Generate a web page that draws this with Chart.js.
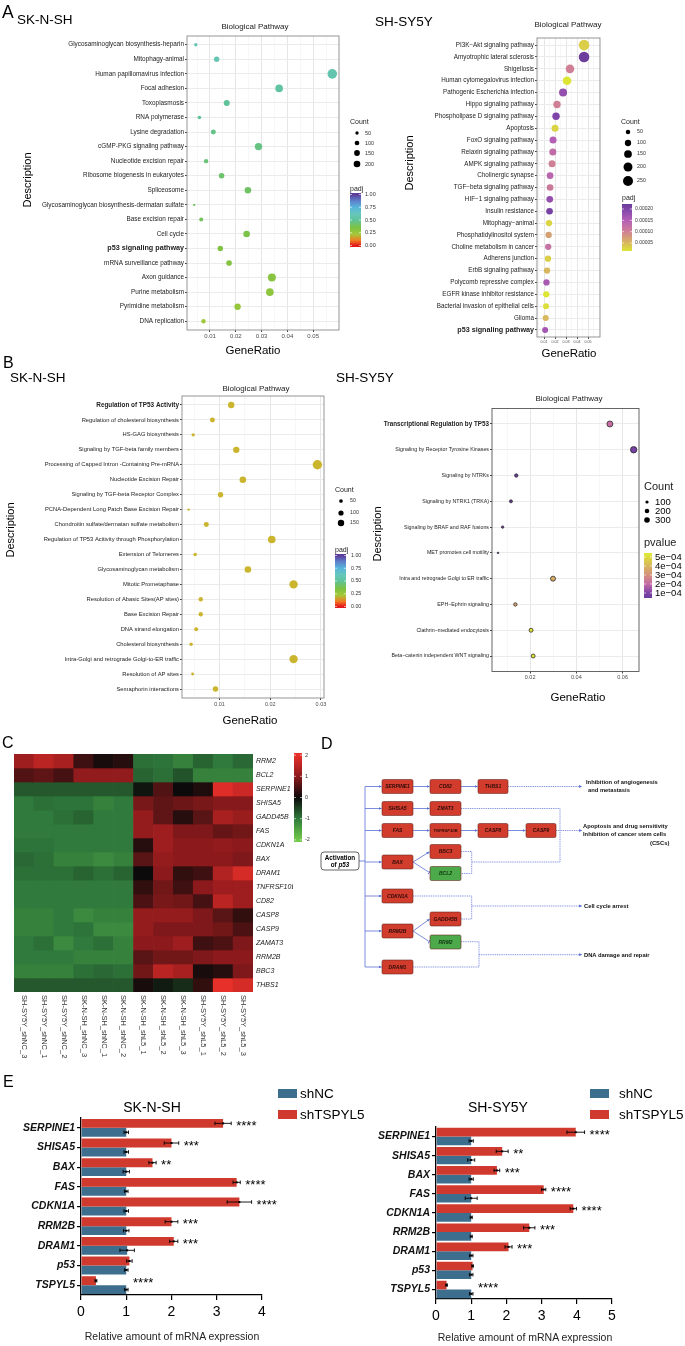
<!DOCTYPE html>
<html>
<head>
<meta charset="utf-8">
<title>TSPYL5 knockdown: enrichment, heatmap and qPCR</title>
<script src="https://cdn.jsdelivr.net/npm/chart.js@4.4.1/dist/chart.umd.min.js"></script>
<style>
  body { margin: 0; background: #fff; }
  #page { position: relative; width: 685px; height: 1346px; overflow: hidden; background: #fff; }
  #page canvas { position: absolute; left: 0; }
  #overlay { position: absolute; left: 0; top: 0; font-family: "Liberation Sans", Arial, sans-serif; }
</style>
</head>
<body>
<div id="page">
  <canvas id="keggSknsh" width="685" height="360" style="top:0px"></canvas>
  <canvas id="keggSysy" width="685" height="360" style="top:0px"></canvas>
  <canvas id="reactSknsh" width="685" height="360" style="top:360px"></canvas>
  <canvas id="reactSysy" width="685" height="360" style="top:360px"></canvas>
  <canvas id="heat" width="685" height="330" style="top:740px"></canvas>
  <canvas id="qpcrSknsh" width="685" height="246" style="top:1100px"></canvas>
  <canvas id="qpcrSysy" width="685" height="246" style="top:1100px"></canvas>

  <svg id="overlay" width="685" height="1346">
    <defs>
      <marker id="arrow" viewBox="0 0 6 6" refX="5.5" refY="3" markerWidth="3.2" markerHeight="3.2" markerUnits="userSpaceOnUse" orient="auto"><path d="M0,0.4 L6,3 L0,5.6 z" fill="#5a6fd6"/></marker>
      <marker id="block" viewBox="0 0 2 8" refX="1" refY="4" markerWidth="1" markerHeight="5" markerUnits="userSpaceOnUse" orient="auto"><rect width="2" height="8" fill="#5a6fd6"/></marker>
    </defs>

    <!-- panel A / B titles -->
    <text x="2" y="18" font-size="17.5">A</text>
    <text x="17" y="24" font-size="13.5">SK-N-SH</text>
    <text x="375" y="26" font-size="13.5">SH-SY5Y</text>
    <text x="255" y="29" font-size="8" text-anchor="middle" fill="#1a1a1a">Biological Pathway</text>
    <text x="568" y="27" font-size="8" text-anchor="middle" fill="#1a1a1a">Biological Pathway</text>
    <text transform="translate(31,180) rotate(-90)" font-size="11" text-anchor="middle">Description</text>
    <text transform="translate(413,163) rotate(-90)" font-size="11" text-anchor="middle">Description</text>
    <text x="253" y="354" font-size="11.5" text-anchor="middle">GeneRatio</text>
    <text x="569" y="357" font-size="11.5" text-anchor="middle">GeneRatio</text>

    <text x="3" y="368" font-size="16">B</text>
    <text x="10" y="382" font-size="13.5">SK-N-SH</text>
    <text x="336" y="382" font-size="13.5">SH-SY5Y</text>
    <text x="256" y="391" font-size="8" text-anchor="middle" fill="#1a1a1a">Biological Pathway</text>
    <text x="569" y="401" font-size="8" text-anchor="middle" fill="#1a1a1a">Biological Pathway</text>
    <text transform="translate(14,530) rotate(-90)" font-size="11" text-anchor="middle">Description</text>
    <text transform="translate(381,534) rotate(-90)" font-size="11" text-anchor="middle">Description</text>
    <text x="250" y="724" font-size="11.5" text-anchor="middle">GeneRatio</text>
    <text x="578" y="701" font-size="11.5" text-anchor="middle">GeneRatio</text>

    <text x="2" y="748" font-size="16">C</text>
    <text x="321" y="749" font-size="16">D</text>
    <text x="3" y="1087" font-size="16">E</text>

    <!-- panel D: p53 target scheme -->
    <g stroke="#5a6fd6" stroke-width="0.8" fill="none">
      <path d="M359,861 H365"/>
      <path d="M365,786.5 V967"/>
      <path d="M365,786.5 H381.5" marker-end="url(#arrow)"/>
      <path d="M365,808.5 H381.5" marker-end="url(#arrow)"/>
      <path d="M365,830.5 H381.5" marker-end="url(#arrow)"/>
      <path d="M365,862 H381.5" marker-end="url(#arrow)"/>
      <path d="M365,896 H381.5" marker-end="url(#arrow)"/>
      <path d="M365,931 H381.5" marker-end="url(#arrow)"/>
      <path d="M365,967 H381.5" marker-end="url(#arrow)"/>
      <path d="M413,786.5 H429.5" marker-end="url(#arrow)"/>
      <path d="M461,786.5 H477.5" marker-end="url(#arrow)"/>
      <path d="M413,808.5 H429.5" marker-end="url(#arrow)"/>
      <path d="M413,830.5 H429.5" marker-end="url(#arrow)"/>
      <path d="M461,830.5 H477.5" marker-end="url(#arrow)"/>
      <path d="M508,830.5 H525.5" marker-end="url(#arrow)"/>
      <path d="M413,862 L429.5,851.8" marker-end="url(#arrow)"/>
      <path d="M413,862 L429.3,872.4" marker-end="url(#block)"/>
      <path d="M413,931 L429.5,919.2" marker-end="url(#arrow)"/>
      <path d="M413,931 L429.3,941.6" marker-end="url(#block)"/>
    </g>
    <g stroke="#5a6fd6" stroke-width="0.8" fill="none" stroke-dasharray="1 0.8">
      <path d="M508,786.5 H582" marker-end="url(#arrow)"/>
      <path d="M461,808.5 H560 V862 H471.7"/>
      <path d="M461,851.5 H471.7 V873.5 H461"/>
      <path d="M556,830.5 H582" marker-end="url(#arrow)"/>
      <path d="M413,896 H471.7 V919 H461"/>
      <path d="M471.7,906 H582" marker-end="url(#arrow)"/>
      <path d="M461,941.7 H479 V967 H413"/>
      <path d="M479,954.7 H582" marker-end="url(#arrow)"/>
    </g>
    <g stroke="#6b2a22" stroke-width="0.6" fill="#d13c2c">
      <rect x="382" y="779.5" width="31" height="14" rx="1.5"/>
      <rect x="430" y="779.5" width="31" height="14" rx="1.5"/>
      <rect x="478" y="779.5" width="30" height="14" rx="1.5"/>
      <rect x="382" y="801.5" width="31" height="14" rx="1.5"/>
      <rect x="430" y="801.5" width="31" height="14" rx="1.5"/>
      <rect x="382" y="823.5" width="31" height="14" rx="1.5"/>
      <rect x="430" y="823.5" width="31" height="14" rx="1.5"/>
      <rect x="478" y="823.5" width="30" height="14" rx="1.5"/>
      <rect x="526" y="823.5" width="30" height="14" rx="1.5"/>
      <rect x="430" y="844.5" width="31" height="14" rx="1.5"/>
      <rect x="382" y="855" width="31" height="14" rx="1.5"/>
      <rect x="430" y="866.5" width="31" height="14" rx="1.5" fill="#4caa4a"/>
      <rect x="382" y="889" width="31" height="14" rx="1.5"/>
      <rect x="430" y="912" width="31" height="14" rx="1.5"/>
      <rect x="382" y="924" width="31" height="14" rx="1.5"/>
      <rect x="430" y="935" width="31" height="14" rx="1.5" fill="#4caa4a"/>
      <rect x="382" y="960" width="31" height="14" rx="1.5"/>
    </g>
    <g font-size="5" font-weight="bold" font-style="italic" fill="#2e0b08" text-anchor="middle">
      <text x="397.5" y="788.3">SERPINE1</text>
      <text x="445.5" y="788.3">CD82</text>
      <text x="493" y="788.3">THBS1</text>
      <text x="397.5" y="810.3">SHISA5</text>
      <text x="445.5" y="810.3">ZMAT3</text>
      <text x="397.5" y="832.3">FAS</text>
      <text x="445.5" y="832.1" font-size="4.2">TNFRSF10B</text>
      <text x="493" y="832.3">CASP8</text>
      <text x="541" y="832.3">CASP9</text>
      <text x="445.5" y="853.3">BBC3</text>
      <text x="397.5" y="863.8">BAX</text>
      <text x="445.5" y="875.3" fill="#123312">BCL2</text>
      <text x="397.5" y="897.8">CDKN1A</text>
      <text x="445.5" y="920.8">GADD45B</text>
      <text x="397.5" y="932.8">RRM2B</text>
      <text x="445.5" y="943.8" fill="#123312">RRM2</text>
      <text x="397.5" y="968.8">DRAM1</text>
    </g>
    <rect x="321" y="852" width="38" height="18" rx="3" fill="#fff" stroke="#222" stroke-width="0.7"/>
    <text x="340" y="859.6" font-size="6.3" font-weight="bold" text-anchor="middle">Activation</text>
    <text x="340" y="867.2" font-size="6.3" font-weight="bold" text-anchor="middle">of <tspan font-style="italic">p53</tspan></text>
    <g font-size="5.8" font-weight="bold" fill="#111">
      <text x="586" y="784">Inhibition of angiogenesis</text>
      <text x="588" y="792">and metastasis</text>
      <text x="583" y="828">Apoptosis and drug sensitivity</text>
      <text x="583" y="836">Inhibition of cancer stem cells</text>
      <text x="650" y="845">(CSCs)</text>
      <text x="584" y="908">Cell cycle arrest</text>
      <text x="584" y="957">DNA damage and repair</text>
    </g>

    <!-- panel E titles and legends -->
    <text x="152" y="1112" font-size="14" text-anchor="middle">SK-N-SH</text>
    <text x="498" y="1112" font-size="14" text-anchor="middle">SH-SY5Y</text>
    <rect x="278" y="1089" width="19" height="9" fill="#3e6e8e"/>
    <text x="300" y="1098" font-size="13.5">shNC</text>
    <rect x="278" y="1110" width="19" height="9" fill="#d03a2e"/>
    <text x="300" y="1119" font-size="13.5">shTSPYL5</text>
    <rect x="590" y="1089" width="19" height="9" fill="#3e6e8e"/>
    <text x="619" y="1098" font-size="13.5">shNC</text>
    <rect x="590" y="1110" width="19" height="9" fill="#d03a2e"/>
    <text x="619" y="1119" font-size="13.5">shTSPYL5</text>
    <text x="172" y="1340" font-size="10.5" text-anchor="middle" fill="#222">Relative amount of mRNA expression</text>
    <text x="525" y="1341" font-size="10.5" text-anchor="middle" fill="#222">Relative amount of mRNA expression</text>
  </svg>
</div>

<script>
// ---------------- A: KEGG, SK-N-SH ----------------
var keggSknshTerms = ['Glycosaminoglycan biosynthesis-heparin', 'Mitophagy-animal', 'Human papillomavirus infection', 'Focal adhesion',
  'Toxoplasmosis', 'RNA polymerase', 'Lysine degradation', 'cGMP-PKG signaling pathway', 'Nucleotide excision repair',
  'Ribosome biogenesis in eukaryotes', 'Spliceosome', 'Glycosaminoglycan biosynthesis-dermatan sulfate', 'Base excision repair',
  'Cell cycle', 'p53 signaling pathway', 'mRNA surveillance pathway', 'Axon guidance', 'Purine metabolism',
  'Pyrimidine metabolism', 'DNA replication'];
var keggSknshRatio = [0.0045, 0.0126, 0.0574, 0.0368, 0.0165, 0.0059, 0.0113, 0.0288, 0.0085, 0.0145,
  0.0247, 0.0039, 0.0066, 0.0242, 0.0140, 0.0174, 0.0340, 0.0332, 0.0207, 0.0075];
var keggSknshCount = [52, 132, 417, 262, 163, 59, 113, 248, 88, 142, 197, 26, 72, 197, 132, 142, 290, 262, 185, 88];
var keggSknshPadj = [0.60, 0.58, 0.57, 0.52, 0.50, 0.50, 0.47, 0.46, 0.44, 0.42, 0.41, 0.40, 0.39, 0.36, 0.34, 0.33, 0.31, 0.29, 0.27, 0.24];

// ---------------- A: KEGG, SH-SY5Y ----------------
var keggSysyTerms = ['PI3K−Akt signaling pathway', 'Amyotrophic lateral sclerosis', 'Shigellosis', 'Human cytomegalovirus infection',
  'Pathogenic Escherichia infection', 'Hippo signaling pathway', 'Phospholipase D signaling pathway', 'Apoptosis',
  'FoxO signaling pathway', 'Relaxin signaling pathway', 'AMPK signaling pathway', 'Cholinergic synapse',
  'TGF−beta signaling pathway', 'HIF−1 signaling pathway', 'Insulin resistance', 'Mitophagy−animal',
  'Phosphatidylinositol system', 'Choline metabolism in cancer', 'Adherens junction', 'ErbB signaling pathway',
  'Polycomb repressive complex', 'EGFR kinase inhibitor resistance', 'Bacterial invasion of epithelial cells', 'Glioma',
  'p53 signaling pathway'];
var keggSysyRatio = [0.0464, 0.0464, 0.0336, 0.0309, 0.0273, 0.0218, 0.0209, 0.0200, 0.0182, 0.0180, 0.0173, 0.0155, 0.0155,
  0.0152, 0.0150, 0.0145, 0.0142, 0.0138, 0.0136, 0.0127, 0.0122, 0.0120, 0.0118, 0.0115, 0.0110];
var keggSysyCount = [281, 281, 185, 185, 160, 137, 137, 123, 123, 123, 123, 111, 111, 111, 111, 100, 100, 100, 100, 100, 100, 100, 90, 90, 90];
var keggSysyPadj = [0.00003, 0.000222, 0.0001, 0.00001, 0.00018, 0.0001, 0.0002, 0.000025, 0.00015, 0.00013, 0.0001, 0.00014,
  0.00011, 0.00018, 0.00021, 0.000025, 0.00007, 0.00012, 0.00003, 0.00005, 0.00016, 0.00001, 0.000015, 0.00005, 0.000165];

// ---------------- B: Reactome, SK-N-SH ----------------
var reactSknshTerms = ['Regulation of TP53 Activity', 'Regulation of cholesterol biosynthesis', 'HS-GAG biosynthesis',
  'Signaling by TGF-beta family members', 'Processing of Capped Intron -Containing Pre-mRNA', 'Nucleotide Excision Repair',
  'Signaling by TGF-beta Receptor Complex', 'PCNA-Dependent Long Patch Base Excision Repair',
  'Chondroitin sulfate/dermatan sulfate metabolism', 'Regulation of TP53 Acitivity through Phosphorylation',
  'Extension of Telomeres', 'Glycosaminoglycan metabolism', 'Mitotic Prometaphase', 'Resolution of Abasic Sites(AP sites)',
  'Base Excision Repair', 'DNA strand elongation', 'Cholesterol biosynthesis', 'Intra-Golgi and retrograde Golgi-to-ER traffic',
  'Resolution of AP sites', 'Semaphorin interactions'];
var reactSknshRatio = [0.0123, 0.0086, 0.0048, 0.0133, 0.0293, 0.0146, 0.0102, 0.0039, 0.0074, 0.0203,
  0.0052, 0.0156, 0.0246, 0.0063, 0.0063, 0.0054, 0.0044, 0.0246, 0.0047, 0.0092];
var reactSknshCount = [150, 92, 43, 150, 327, 161, 108, 21, 92, 214, 48, 161, 261, 72, 72, 59, 43, 261, 33, 108];

// ---------------- B: Reactome, SH-SY5Y ----------------
var reactSysyTerms = ['Transcriptional Regulation by TP53', 'Signaling by Receptor Tyrosine Kinases', 'Signaling by NTRKs',
  'Signaling by NTRK1 (TRKA)', 'Signaling by BRAF and RAF fusions', 'MET promotes cell motility',
  'Intra and retrograde Golgi to ER traffic', 'EPH−Ephrin signaling', 'Clathrin−mediated endocytosis',
  'Beta−catenin independent WNT signaling'];
var reactSysyRatio = [0.0545, 0.0648, 0.0140, 0.0117, 0.0081, 0.0061, 0.0299, 0.0136, 0.0204, 0.0213];
var reactSysyCount = [344, 392, 110, 86, 55, 24, 240, 110, 153, 153];
var reactSysyPvalue = [2.1e-4, 0.8e-4, 0.5e-4, 0.55e-4, 0.6e-4, 0.7e-4, 3.7e-4, 3.6e-4, 5.2e-4, 5.1e-4];

// ---------------- C: heatmap (row z-scores) ----------------
var heatSamples = ['SH-SY5Y_shNC_3', 'SH-SY5Y_shNC_1', 'SH-SY5Y_shNC_2', 'SK-N-SH_shNC_3', 'SK-N-SH_shNC_1', 'SK-N-SH_shNC_2',
  'SK-N-SH_shL5_1', 'SK-N-SH_shL5_2', 'SK-N-SH_shL5_3', 'SH-SY5Y_shL5_1', 'SH-SY5Y_shL5_2', 'SH-SY5Y_shL5_3'];
var heatGenes = ['RRM2', 'BCL2', 'SERPINE1', 'SHISA5', 'GADD45B', 'FAS', 'CDKN1A', 'BAX', 'DRAM1', 'TNFRSF10B', 'CD82',
  'CASP8', 'CASP9', 'ZAMAT3', 'RRM2B', 'BBC3', 'THBS1'];
var heatZ = [
  [1.2, 1.5, 1.3, 0.4, 0.1, 0.2, -0.9, -0.95, -1.1, -0.8, -1.0, -0.85],
  [0.55, 0.65, 0.45, 1.05, 1.05, 1.05, -0.8, -0.9, -0.65, -1.1, -1.1, -1.1],
  [-0.7, -0.7, -0.7, -0.7, -0.7, -0.7, -0.1, 0.55, 0.0, 0.15, 1.9, 1.7],
  [-1.0, -0.9, -0.95, -0.95, -1.1, -1.0, 0.85, 0.65, 0.75, 0.85, 0.95, 0.95],
  [-1.0, -1.0, -0.9, -0.8, -1.0, -1.0, 1.1, 0.65, 0.2, 0.6, 1.3, 1.15],
  [-1.0, -1.0, -1.0, -1.0, -1.0, -1.0, 1.1, 1.2, 0.9, 0.9, 0.7, 0.8],
  [-0.95, -0.95, -1.0, -1.0, -1.0, -1.0, 0.2, 1.2, 1.0, 1.0, 1.05, 1.0],
  [-0.85, -0.9, -1.1, -1.1, -1.2, -1.1, 0.6, 1.1, 1.0, 1.0, 1.0, 0.9],
  [-0.9, -0.9, -0.9, -0.8, -0.9, -0.8, 0.0, 1.0, 0.3, 0.4, 1.4, 1.8],
  [-1.0, -1.0, -1.0, -1.0, -1.0, -1.0, 0.3, 0.8, 0.4, 1.0, 1.2, 1.2],
  [-1.0, -1.0, -1.0, -1.0, -1.0, -1.0, 0.5, 0.85, 0.8, 0.45, 1.5, 1.2],
  [-1.1, -1.1, -1.0, -1.2, -1.1, -1.1, 1.1, 1.1, 1.1, 0.9, 0.6, 0.3],
  [-1.1, -1.1, -1.0, -0.95, -1.2, -1.2, 1.1, 0.9, 0.9, 0.9, 0.8, 0.5],
  [-1.0, -0.9, -1.2, -1.0, -0.9, -1.1, 1.0, 1.0, 1.2, 0.4, 0.5, 0.9],
  [-1.0, -1.0, -1.0, -1.1, -1.1, -1.1, 0.6, 0.8, 0.8, 0.9, 1.0, 1.0],
  [-1.1, -1.1, -1.1, -0.9, -0.85, -0.9, 0.8, 1.5, 1.3, 0.1, 0.2, 0.9],
  [-0.7, -0.7, -0.7, -0.7, -0.7, -0.7, 0.1, -0.15, -0.3, 0.3, 2.0, 1.8]
];

// ---------------- E: qPCR ----------------
var qpcrGenes = ['SERPINE1', 'SHISA5', 'BAX', 'FAS', 'CDKN1A', 'RRM2B', 'DRAM1', 'p53', 'TSPYL5'];
var sknshNC = [1.0, 1.0, 1.0, 1.0, 1.0, 1.0, 1.02, 1.0, 1.0];
var sknshNCErr = [0.05, 0.05, 0.07, 0.04, 0.05, 0.06, 0.16, 0.04, 0.04];
var sknshKD = [3.14, 2.0, 1.58, 3.44, 3.5, 2.0, 2.05, 1.07, 0.33];
var sknshKDErr = [0.18, 0.16, 0.08, 0.08, 0.27, 0.14, 0.09, 0.06, 0.02];
var sknshStars = ['****', '***', '**', '****', '****', '***', '***', '', '****'];
var sysyNC = [1.0, 1.0, 1.0, 1.0, 1.0, 1.0, 1.0, 1.0, 1.0];
var sysyNCErr = [0.06, 0.1, 0.06, 0.17, 0.03, 0.03, 0.05, 0.05, 0.05];
var sysyKD = [3.97, 1.88, 1.73, 3.06, 3.9, 2.65, 2.06, 1.04, 0.3];
var sysyKDErr = [0.25, 0.17, 0.08, 0.06, 0.09, 0.16, 0.1, 0.02, 0.02];
var sysyStars = ['****', '**', '***', '****', '****', '***', '***', '', '****'];

// colour scales (value, colour)
var rainbowStops = [[0, '#e41a1c'], [0.1, '#f17c22'], [0.22, '#a4c93a'], [0.35, '#7cc242'], [0.5, '#5fc39a'],
  [0.62, '#66c7bc'], [0.75, '#58b5dc'], [0.88, '#5d7fca'], [1, '#5e3c99']];
var keggSysyStops = [[0.00001, '#dde535'], [0.00005, '#d8b85c'], [0.0001, '#cf8094'], [0.00015, '#b45fb6'],
  [0.0002, '#7f45a9'], [0.000225, '#6a3d9a']];
var pvalStops = [[0.44e-4, '#6a3d9a'], [1e-4, '#7f44a6'], [2e-4, '#c46aa8'], [3e-4, '#d4927a'], [4e-4, '#d8b45e'],
  [5e-4, '#dcdc3c'], [5.44e-4, '#e0ea34']];
var heatStops = [[-2, '#72c94a'], [-1, '#2f7a3c'], [0, '#0c0a0a'], [1, '#8c1a1c'], [2, '#e8302a']];

var FONT = '"Liberation Sans", Arial, sans-serif';
Chart.defaults.font.family = FONT;
Chart.defaults.color = '#333';

function hexRgb(h) {
  h = h.replace('#', '');
  return [parseInt(h.substr(0, 2), 16), parseInt(h.substr(2, 2), 16), parseInt(h.substr(4, 2), 16)];
}
function rampColor(stops, v) {
  if (v <= stops[0][0]) return stops[0][1];
  for (var i = 1; i < stops.length; i++) {
    if (v <= stops[i][0]) {
      var a = stops[i - 1], b = stops[i];
      var t = (v - a[0]) / (b[0] - a[0]);
      var ca = hexRgb(a[1]), cb = hexRgb(b[1]);
      return 'rgb(' + [0, 1, 2].map(function (k) { return Math.round(ca[k] + (cb[k] - ca[k]) * t); }).join(',') + ')';
    }
  }
  return stops[stops.length - 1][1];
}

// panel border like theme_bw
var framePlugin = {
  id: 'frame',
  afterDatasetsDraw: function (chart, args, opts) {
    var a = chart.chartArea, c = chart.ctx;
    c.save();
    c.strokeStyle = opts.color || '#888';
    c.lineWidth = 0.9;
    c.strokeRect(a.left, a.top, a.right - a.left, a.bottom - a.top);
    c.restore();
  }
};

function sizeLegend(c, o) {
  c.fillStyle = '#222';
  c.font = o.titleSize + 'px ' + FONT;
  c.textAlign = 'left';
  c.textBaseline = 'alphabetic';
  c.fillText(o.title, o.x, o.titleY);
  o.values.forEach(function (v, i) {
    c.beginPath();
    c.arc(o.dotX, o.ys[i], o.radius(v), 0, Math.PI * 2);
    c.fillStyle = '#000';
    c.fill();
    c.fillStyle = o.labelColor || '#333';
    c.font = o.labelSize + 'px ' + FONT;
    c.textBaseline = 'middle';
    c.fillText(String(v), o.labelX, o.ys[i]);
  });
}

function colorBar(c, o) {
  c.fillStyle = '#222';
  c.font = o.titleSize + 'px ' + FONT;
  c.textAlign = 'left';
  c.textBaseline = 'alphabetic';
  if (o.title) c.fillText(o.title, o.x, o.titleY);
  var g = c.createLinearGradient(0, o.y, 0, o.y + o.h);
  o.stops.forEach(function (s) {
    var p = (o.vTop - s[0]) / (o.vTop - o.vBottom);
    g.addColorStop(Math.max(0, Math.min(1, p)), s[1]);
  });
  c.fillStyle = g;
  c.fillRect(o.x, o.y, o.w, o.h);
  o.ticks.forEach(function (v, i) {
    var y = o.y + (o.vTop - v) / (o.vTop - o.vBottom) * o.h;
    c.strokeStyle = '#fff';
    c.lineWidth = 0.6;
    c.beginPath();
    c.moveTo(o.x, y); c.lineTo(o.x + 2, y);
    c.moveTo(o.x + o.w - 2, y); c.lineTo(o.x + o.w, y);
    c.stroke();
    c.fillStyle = o.labelColor || '#333';
    c.font = o.labelSize + 'px ' + FONT;
    c.textBaseline = 'middle';
    c.fillText(o.labels[i], o.labelX, y);
  });
}

// GO/KEGG style dot plot
function dotPlot(id, o) {
  var n = o.terms.length;
  var pts = o.terms.map(function (t, i) { return { x: o.ratio[i], y: i, r: o.radius(o.count[i]) }; });
  var isMajor = function (v) { return o.majors.some(function (m) { return Math.abs(m - v) < 1e-9; }); };
  return new Chart(document.getElementById(id), {
    type: 'bubble',
    data: {
      datasets: [{
        data: pts,
        backgroundColor: o.colors,
        borderColor: o.outline ? '#1a1a1a' : o.colors,
        borderWidth: o.outline ? 0.7 : 0,
        clip: false
      }]
    },
    options: {
      responsive: false, animation: false, events: [],
      layout: { padding: { left: 0, top: o.area.top - o.top, right: 685 - o.area.right, bottom: 0 } },
      plugins: { legend: { display: false }, tooltip: { enabled: false }, frame: { color: o.frameColor } },
      scales: {
        x: {
          type: 'linear', min: o.xMin, max: o.xMax,
          afterBuildTicks: function (s) { s.ticks = o.grid.map(function (v) { return { value: v }; }); },
          afterFit: function (s) { s.height = o.top + o.height - o.area.bottom; },
          ticks: {
            autoSkip: false, maxRotation: 0, padding: 1, color: '#4d4d4d', font: { size: o.xFont },
            callback: function (v) { return isMajor(v) ? v.toFixed(2) : ''; }
          },
          grid: {
            color: function (c) { return c.tick && isMajor(c.tick.value) ? '#e6e6e6' : '#f1f1f1'; },
            lineWidth: function (c) { return c.tick && isMajor(c.tick.value) ? 1 : 0.6; },
            tickLength: 2,
            tickColor: function (c) { return c.tick && isMajor(c.tick.value) ? '#444' : 'rgba(0,0,0,0)'; }
          },
          border: { display: false }
        },
        y: {
          type: 'linear', reverse: true, min: -0.6, max: n - 0.4,
          afterBuildTicks: function (s) { s.ticks = o.terms.map(function (t, i) { return { value: i }; }); },
          afterFit: function (s) { s.width = o.area.left; },
          ticks: {
            autoSkip: false, padding: 1, color: '#222',
            callback: function (v) { return o.terms[v]; },
            font: function (c) {
              return c.index === o.bold ? { size: o.boldSize, weight: 'bold' } : { size: o.yFont, weight: 'normal' };
            }
          },
          grid: { color: '#ebebeb', lineWidth: 1, tickLength: 2, tickColor: '#444' },
          border: { display: false }
        }
      }
    },
    plugins: [framePlugin, {
      id: id + 'Legend',
      afterDraw: function (chart) {
        var c = chart.ctx;
        c.save();
        c.translate(0, -o.top);
        o.legend(c);
        c.restore();
      }
    }]
  });
}

var rKeggSknsh = function (v) { return 0.235 * Math.sqrt(v); };
var rKeggSysy = function (v) { return 0.316 * Math.sqrt(v); };
var rReactSknsh = function (v) { return 0.26 * Math.sqrt(v); };
var rReactSysy = function (v) { return 0.1617 * Math.sqrt(v); };

dotPlot('keggSknsh', {
  top: 0, height: 360, area: { left: 187, right: 339, top: 36, bottom: 330 },
  terms: keggSknshTerms, ratio: keggSknshRatio, count: keggSknshCount, radius: rKeggSknsh,
  colors: keggSknshPadj.map(function (p) { return rampColor(rainbowStops, p); }),
  xMin: 0.0011, xMax: 0.06, grid: [0.005, 0.01, 0.015, 0.02, 0.025, 0.03, 0.035, 0.04, 0.045, 0.05, 0.055],
  majors: [0.01, 0.02, 0.03, 0.04, 0.05], xFont: 6, yFont: 6.4, bold: 14, boldSize: 7.2, frameColor: '#8a8a8a',
  legend: function (c) {
    sizeLegend(c, { title: 'Count', x: 350, titleY: 124, titleSize: 7, dotX: 357, labelX: 365, labelSize: 5.5,
      ys: [133, 143, 153, 164], values: [50, 100, 150, 200], radius: rKeggSknsh });
    colorBar(c, { title: 'padj', x: 350, titleY: 191, titleSize: 7, y: 193, w: 11, h: 54, stops: rainbowStops,
      vTop: 1.03, vBottom: -0.03, ticks: [1, 0.75, 0.5, 0.25, 0], labels: ['1.00', '0.75', '0.50', '0.25', '0.00'],
      labelX: 365, labelSize: 5.5 });
  }
});

dotPlot('keggSysy', {
  top: 0, height: 360, area: { left: 537, right: 600, top: 38, bottom: 337 },
  terms: keggSysyTerms, ratio: keggSysyRatio, count: keggSysyCount, radius: rKeggSysy,
  colors: keggSysyPadj.map(function (p) { return rampColor(keggSysyStops, p); }),
  xMin: 0.0036, xMax: 0.0609, grid: [0.005, 0.01, 0.015, 0.02, 0.025, 0.03, 0.035, 0.04, 0.045, 0.05, 0.055, 0.06],
  majors: [0.01, 0.02, 0.03, 0.04, 0.05], xFont: 3.6, yFont: 6.3, bold: 24, boldSize: 7.2, frameColor: '#8a8a8a',
  legend: function (c) {
    sizeLegend(c, { title: 'Count', x: 621, titleY: 124, titleSize: 7, dotX: 628, labelX: 637, labelSize: 5.3,
      ys: [132, 143, 154, 167, 181], values: [50, 100, 150, 200, 250], radius: rKeggSysy });
    colorBar(c, { title: 'padj', x: 622, titleY: 200, titleSize: 7, y: 204, w: 10, h: 47, stops: keggSysyStops,
      vTop: 0.000222, vBottom: 0.0000146, ticks: [0.0002, 0.00015, 0.0001, 0.00005],
      labels: ['0.00020', '0.00015', '0.00010', '0.00005'], labelX: 635, labelSize: 5 });
  }
});

dotPlot('reactSknsh', {
  top: 360, height: 360, area: { left: 182, right: 324, top: 396, bottom: 698 },
  terms: reactSknshTerms, ratio: reactSknshRatio, count: reactSknshCount, radius: rReactSknsh,
  colors: '#cbb52f',
  xMin: 0.0026, xMax: 0.0306, grid: [0.005, 0.01, 0.015, 0.02, 0.025, 0.03],
  majors: [0.01, 0.02, 0.03], xFont: 5.5, yFont: 5.8, bold: 0, boldSize: 6.4, frameColor: '#8a8a8a',
  legend: function (c) {
    sizeLegend(c, { title: 'Count', x: 335, titleY: 492, titleSize: 7, dotX: 341, labelX: 350, labelSize: 5.3,
      ys: [501, 513, 523], values: [50, 100, 150], radius: rReactSknsh });
    colorBar(c, { title: 'padj', x: 335, titleY: 552, titleSize: 7, y: 554, w: 11, h: 54, stops: rainbowStops,
      vTop: 1.03, vBottom: -0.03, ticks: [1, 0.75, 0.5, 0.25, 0], labels: ['1.00', '0.75', '0.50', '0.25', '0.00'],
      labelX: 351, labelSize: 5.3 });
  }
});

dotPlot('reactSysy', {
  top: 360, height: 360, area: { left: 492, right: 639, top: 408.5, bottom: 671.5 },
  terms: reactSysyTerms, ratio: reactSysyRatio, count: reactSysyCount, radius: rReactSysy, outline: true,
  colors: reactSysyPvalue.map(function (p) { return rampColor(pvalStops, p); }),
  xMin: 0.0035, xMax: 0.0671, grid: [0.01, 0.02, 0.03, 0.04, 0.05, 0.06],
  majors: [0.02, 0.04, 0.06], xFont: 5.5, yFont: 5.3, bold: 0, boldSize: 6.3, frameColor: '#555',
  legend: function (c) {
    sizeLegend(c, { title: 'Count', x: 644, titleY: 490, titleSize: 11, dotX: 647, labelX: 655, labelSize: 9.5,
      labelColor: '#000', ys: [502, 511, 520], values: [100, 200, 300], radius: rReactSysy });
    colorBar(c, { title: 'pvalue', x: 644, titleY: 546, titleSize: 11, y: 553, w: 8, h: 45, stops: pvalStops,
      vTop: 5.44e-4, vBottom: 0.44e-4, ticks: [5e-4, 4e-4, 3e-4, 2e-4, 1e-4],
      labels: ['5e−04', '4e−04', '3e−04', '2e−04', '1e−04'], labelX: 655, labelSize: 9.5, labelColor: '#000' });
  }
});

// ---------------- C: heatmap as stacked bars ----------------
var heatTop = 740;
var heatExtras = {
  id: 'heatExtras',
  afterDraw: function (chart) {
    var c = chart.ctx, xs = chart.scales.x, a = chart.chartArea;
    c.save();
    c.fillStyle = '#333';
    c.font = '7.5px ' + FONT;
    c.textAlign = 'left';
    c.textBaseline = 'middle';
    heatSamples.forEach(function (s, i) {
      c.save();
      c.translate(xs.getPixelForValue(i), a.bottom + 3);
      c.rotate(Math.PI / 2);
      c.fillText(s, 0, 0);
      c.restore();
    });
    c.translate(0, -heatTop);
    colorBar(c, { x: 294, y: 753, w: 8, h: 89, stops: heatStops, vTop: 2.1, vBottom: -2.1,
      ticks: [2, 1, 0, -1, -2], labels: ['2', '1', '0', '-1', '-2'], labelX: 305, labelSize: 5.5 });
    c.restore();
  }
};

new Chart(document.getElementById('heat'), {
  type: 'bar',
  data: {
    labels: heatSamples,
    datasets: heatGenes.map(function (g, gi) {
      return {
        label: g,
        data: heatZ[gi].map(function () { return 1; }),
        backgroundColor: heatZ[gi].map(function (z) { return rampColor(heatStops, z); }),
        borderWidth: 0, barPercentage: 1, categoryPercentage: 1, stack: 'cells'
      };
    })
  },
  options: {
    responsive: false, animation: false, events: [],
    layout: { padding: { left: 14, top: 14, right: 685 - 253 - 40, bottom: 0 } },
    plugins: { legend: { display: false }, tooltip: { enabled: false } },
    scales: {
      x: {
        stacked: true, ticks: { display: false }, grid: { display: false, drawTicks: false }, border: { display: false },
        afterFit: function (s) { s.height = 330 - 252; }
      },
      y: {
        stacked: true, position: 'right', reverse: true, min: 0, max: 17,
        afterBuildTicks: function (s) { s.ticks = heatGenes.map(function (g, i) { return { value: i + 0.5 }; }); },
        afterFit: function (s) { s.width = 40; },
        ticks: {
          autoSkip: false, padding: 3, color: '#222', font: { size: 7, style: 'italic' },
          callback: function (v) { return heatGenes[Math.floor(v)]; }
        },
        grid: { display: false, drawTicks: false }, border: { display: false }
      }
    }
  },
  plugins: [heatExtras]
});

// ---------------- E: qPCR bars with error bars ----------------
var errorBars = {
  id: 'errorBars',
  afterDatasetsDraw: function (chart, args, opts) {
    var c = chart.ctx, xs = chart.scales.x;
    c.save();
    c.strokeStyle = '#000';
    c.fillStyle = '#000';
    c.lineWidth = 0.9;
    chart.data.datasets.forEach(function (ds, di) {
      var meta = chart.getDatasetMeta(di);
      meta.data.forEach(function (el, i) {
        var v = ds.data[i], e = ds.errors[i];
        var x1 = xs.getPixelForValue(v - e), x2 = xs.getPixelForValue(v + e), y = el.y;
        c.beginPath();
        c.moveTo(x1, y); c.lineTo(x2, y);
        c.moveTo(x1, y - 1.8); c.lineTo(x1, y + 1.8);
        c.moveTo(x2, y - 1.8); c.lineTo(x2, y + 1.8);
        c.stroke();
        c.fillRect(xs.getPixelForValue(v) - 1, y - 1, 2, 2);
      });
    });
    var kd = chart.data.datasets[0], nc = chart.data.datasets[1];
    var kdMeta = chart.getDatasetMeta(0);
    c.font = '13px ' + FONT;
    c.textAlign = 'left';
    c.textBaseline = 'middle';
    opts.stars.forEach(function (s, i) {
      if (!s) return;
      var end = Math.max(kd.data[i] + kd.errors[i], nc.data[i] + nc.errors[i]);
      c.fillText(s, xs.getPixelForValue(end) + 5, kdMeta.data[i].y + 3);
    });
    c.restore();
  }
};

function qpcrChart(id, o) {
  return new Chart(document.getElementById(id), {
    type: 'bar',
    data: {
      labels: qpcrGenes,
      datasets: [
        { label: 'shTSPYL5', data: o.kd, errors: o.kdErr, backgroundColor: '#d03a2e' },
        { label: 'shNC', data: o.nc, errors: o.ncErr, backgroundColor: '#3e6e8e' }
      ]
    },
    options: {
      indexAxis: 'y', responsive: false, animation: false, events: [],
      datasets: { bar: { categoryPercentage: 0.91, barPercentage: 1, borderWidth: 0 } },
      layout: { padding: { left: 0, top: o.area.top - 1100, right: 685 - o.area.right, bottom: 0 } },
      plugins: { legend: { display: false }, tooltip: { enabled: false }, errorBars: { stars: o.stars } },
      scales: {
        x: {
          type: 'linear', min: 0, max: o.xMax,
          ticks: { stepSize: 1, color: '#000', font: { size: 14 }, padding: 4 },
          grid: { drawOnChartArea: false, drawTicks: true, tickLength: 5, color: '#000', lineWidth: 1.2 },
          border: { display: true, color: '#000', width: 1.3 },
          afterFit: function (s) { s.height = 1346 - o.area.bottom; }
        },
        y: {
          type: 'category',
          ticks: { color: '#111', font: { size: 10.5, weight: 'bold', style: 'italic' }, padding: 2, autoSkip: false },
          grid: { drawOnChartArea: false, drawTicks: true, tickLength: 4, color: '#000', lineWidth: 1.2, offset: false },
          border: { display: true, color: '#000', width: 1.3 },
          afterFit: function (s) { s.width = o.area.left; }
        }
      }
    },
    plugins: [errorBars]
  });
}

qpcrChart('qpcrSknsh', {
  area: { left: 81, right: 262, top: 1118, bottom: 1295 }, xMax: 4,
  nc: sknshNC, ncErr: sknshNCErr, kd: sknshKD, kdErr: sknshKDErr, stars: sknshStars
});
qpcrChart('qpcrSysy', {
  area: { left: 436, right: 612, top: 1127, bottom: 1299 }, xMax: 5,
  nc: sysyNC, ncErr: sysyNCErr, kd: sysyKD, kdErr: sysyKDErr, stars: sysyStars
});
</script>
</body>
</html>
